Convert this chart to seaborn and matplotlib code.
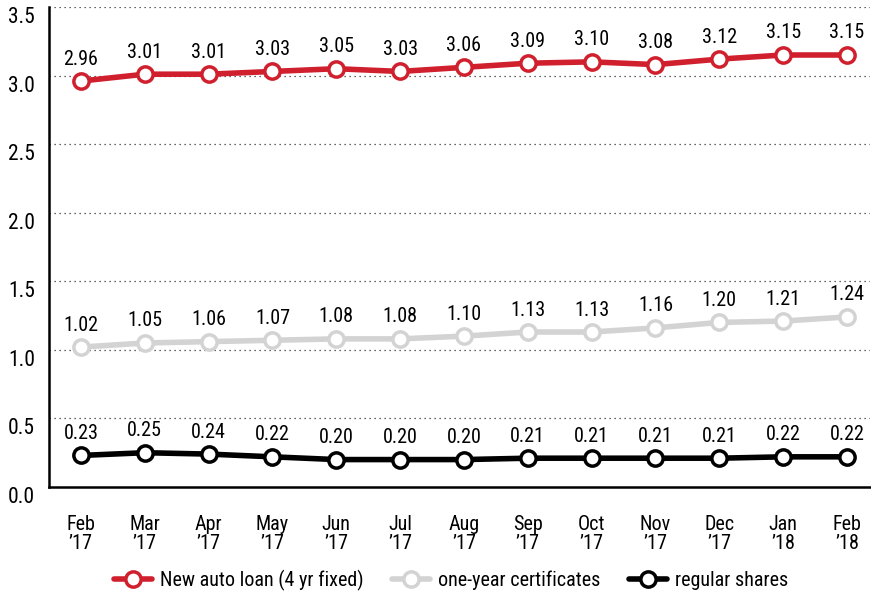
import numpy as np
import pandas as pd
import matplotlib
matplotlib.use('Agg')
import matplotlib.pyplot as plt
import seaborn as sns

months = ['Feb\n\u201917', 'Mar\n\u201917', 'Apr\n\u201917', 'May\n\u201917', 'Jun\n\u201917', 'Jul\n\u201917',
          'Aug\n\u201917', 'Sep\n\u201917', 'Oct\n\u201917', 'Nov\n\u201917', 'Dec\n\u201917', 'Jan\n\u201918',
          'Feb\n\u201918']
auto_loan = [2.96, 3.01, 3.01, 3.03, 3.05, 3.03, 3.06, 3.09, 3.10, 3.08, 3.12, 3.15, 3.15]
certificates = [1.02, 1.05, 1.06, 1.07, 1.08, 1.08, 1.10, 1.13, 1.13, 1.16, 1.20, 1.21, 1.24]
shares = [0.23, 0.25, 0.24, 0.22, 0.20, 0.20, 0.20, 0.21, 0.21, 0.21, 0.21, 0.22, 0.22]

series = [('New auto loan (4 yr fixed)', auto_loan, '#d0202e'),
          ('one-year certificates', certificates, '#d3d3d3'),
          ('regular shares', shares, '#000000')]

sns.set_style('white')
plt.rcParams['font.family'] = ['DejaVu Sans Condensed', 'Roboto Condensed', 'Roboto', 'DejaVu Sans']
plt.rcParams['text.color'] = 'black'

fig = plt.figure(figsize=(8.71, 5.96), dpi=100)
ax = fig.add_axes([49 / 871, 1 - 487 / 596, 821 / 871, 480 / 596])

x = np.arange(len(months))
for name, vals, col in series:
    sns.lineplot(x=x, y=vals, ax=ax, color=col, linewidth=4, marker='o', markersize=11,
                 markerfacecolor='white', markeredgecolor=col, markeredgewidth=2.5, label=name, zorder=3)
    for xi, v in zip(x, vals):
        ax.annotate(f'{v:.2f}', (xi, v), xytext=(0, 9), textcoords='offset points',
                    ha='center', va='bottom', fontsize=14.5, color='black')

ax.set_xlim(-0.5, 12.36)
ax.set_ylim(0, 3.5)
ax.set_yticks(np.arange(0, 3.51, 0.5))
ax.set_yticklabels([f'{t:.1f}' for t in np.arange(0, 3.51, 0.5)], fontsize=15.5, va='top', color='black')
ax.set_xticks(x)
ax.set_xticklabels(months, fontsize=14.5, linespacing=1.0, color='black')
ax.tick_params(axis='both', length=0)
ax.tick_params(axis='x', pad=20)
ax.tick_params(axis='y', pad=10)

for t in np.arange(0.5, 3.51, 0.5):
    ax.axhline(t, color='#333333', linestyle=(0, (1, 3)), linewidth=0.9, zorder=1)

for s in ['top', 'right']:
    ax.spines[s].set_visible(False)
for s in ['left', 'bottom']:
    ax.spines[s].set_color('black')
    ax.spines[s].set_linewidth(1.8)

ax.set_xlabel('')
ax.set_ylabel('')
leg = ax.legend(loc='upper center', bbox_to_anchor=(0.49, -0.155), borderaxespad=0, ncol=3, frameon=False,
                fontsize=14.5, handlelength=1.9, columnspacing=1.4, handletextpad=0.4)
for t in leg.get_texts():
    t.set_color('black')

fig.savefig('out.png', dpi=100)
